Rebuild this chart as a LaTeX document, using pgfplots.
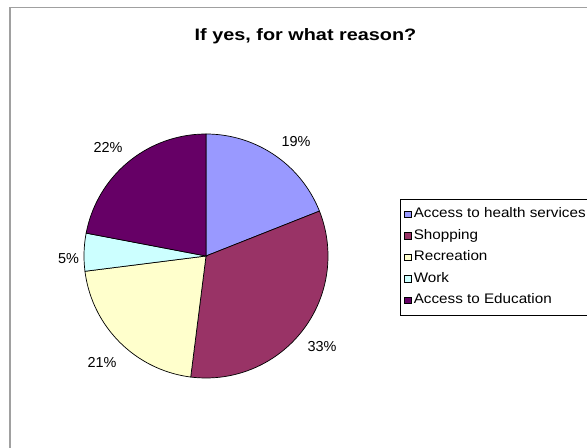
\documentclass[border=0pt]{standalone}
\usepackage{pgfplots}
\usepackage{pgfplotstable}
\pgfplotsset{compat=1.18}
\usepackage{fontspec}
\setmainfont{Liberation Sans}[FakeStretch=1.1]
\newfontfamily\plainfont{Liberation Sans}
\newfontfamily\titlefont{Liberation Sans}[FakeStretch=1.2]
\definecolor{cA}{HTML}{9999FF}
\definecolor{cB}{HTML}{993366}
\definecolor{cC}{HTML}{FFFFCC}
\definecolor{cD}{HTML}{CCFFFF}
\definecolor{cE}{HTML}{660066}
\definecolor{framegray}{HTML}{A0A0A0}

\pgfplotstableread{
reason share
health 19
shopping 33
recreation 21
work 5
education 22
}\pietable

\begin{document}%
\begin{tikzpicture}
\pgfplotstablegetelem{0}{share}\of\pietable \let\sA\pgfplotsretval
\pgfplotstablegetelem{1}{share}\of\pietable \let\sB\pgfplotsretval
\pgfplotstablegetelem{2}{share}\of\pietable \let\sC\pgfplotsretval
\pgfplotstablegetelem{3}{share}\of\pietable \let\sD\pgfplotsretval
\pgfplotstablegetelem{4}{share}\of\pietable \let\sE\pgfplotsretval
\pgfmathsetmacro{\aA}{90}
\pgfmathsetmacro{\aB}{\aA-3.6*\sA}
\pgfmathsetmacro{\aC}{\aB-3.6*\sB}
\pgfmathsetmacro{\aD}{\aC-3.6*\sC}
\pgfmathsetmacro{\aE}{\aD-3.6*\sD}
\pgfmathsetmacro{\aF}{\aE-3.6*\sE}
\useasboundingbox (0,0) rectangle (587bp,448bp);
\clip (0,0) rectangle (587bp,448bp);
\begin{axis}[
  at={(0,0)}, anchor=south west,
  scale only axis, width=587bp, height=448bp,
  xmin=0, xmax=587, ymin=0, ymax=448,
  xtick=\empty, ytick=\empty,
  hide axis, clip=false,
  legend style={at={(axis cs:400,249)}, anchor=north west, draw=black, line width=0.6bp,
    font=\fontsize{13.9}{16}\selectfont, row sep=7.5bp, column sep=2.5bp,
    inner xsep=4bp, inner ysep=8bp,
    nodes={inner sep=0pt, text height=10.5bp, text depth=3.5bp},
    cells={anchor=west}},
  legend image code/.code={\draw[#1, line width=0.5bp, draw=black] (0bp,-3bp) rectangle (6.5bp,3.5bp);},
]
\addplot[fill=cA, draw=black, line width=0.7bp, domain=\aB:\aA, samples=60, variable=\t]
  ({206+122*cos(\t)},{192+122*sin(\t)}) -- (axis cs:206,192) -- cycle;
\addlegendentry{Access to health services}
\addplot[fill=cB, draw=black, line width=0.7bp, domain=\aC:\aB, samples=80, variable=\t]
  ({206+122*cos(\t)},{192+122*sin(\t)}) -- (axis cs:206,192) -- cycle;
\addlegendentry{Shopping}
\addplot[fill=cC, draw=black, line width=0.7bp, domain=\aD:\aC, samples=60, variable=\t]
  ({206+122*cos(\t)},{192+122*sin(\t)}) -- (axis cs:206,192) -- cycle;
\addlegendentry{Recreation}
\addplot[fill=cD, draw=black, line width=0.7bp, domain=\aE:\aD, samples=20, variable=\t]
  ({206+122*cos(\t)},{192+122*sin(\t)}) -- (axis cs:206,192) -- cycle;
\addlegendentry{Work}
\addplot[fill=cE, draw=black, line width=0.7bp, domain=\aF:\aE, samples=60, variable=\t]
  ({206+122*cos(\t)},{192+122*sin(\t)}) -- (axis cs:206,192) -- cycle;
\addlegendentry{Access to Education}
\draw[framegray, line width=1.3bp] (axis cs:10,0) -- (axis cs:10,440.5) -- (axis cs:587,440.5);
\node[font=\titlefont\bfseries\fontsize{16.6}{19}\selectfont, anchor=base] at (axis cs:305.5,407) {If yes, for what reason?};
\node[font=\plainfont\fontsize{14.5}{16}\selectfont, anchor=base] at (axis cs:296,301) {\sA\%};
\node[font=\plainfont\fontsize{14.5}{16}\selectfont, anchor=base] at (axis cs:322,96) {\sB\%};
\node[font=\plainfont\fontsize{14.5}{16}\selectfont, anchor=base] at (axis cs:102,80) {\sC\%};
\node[font=\plainfont\fontsize{14.5}{16}\selectfont, anchor=base] at (axis cs:68.5,184) {\sD\%};
\node[font=\plainfont\fontsize{14.5}{16}\selectfont, anchor=base] at (axis cs:108,295) {\sE\%};
\end{axis}
\end{tikzpicture}%
\end{document}
